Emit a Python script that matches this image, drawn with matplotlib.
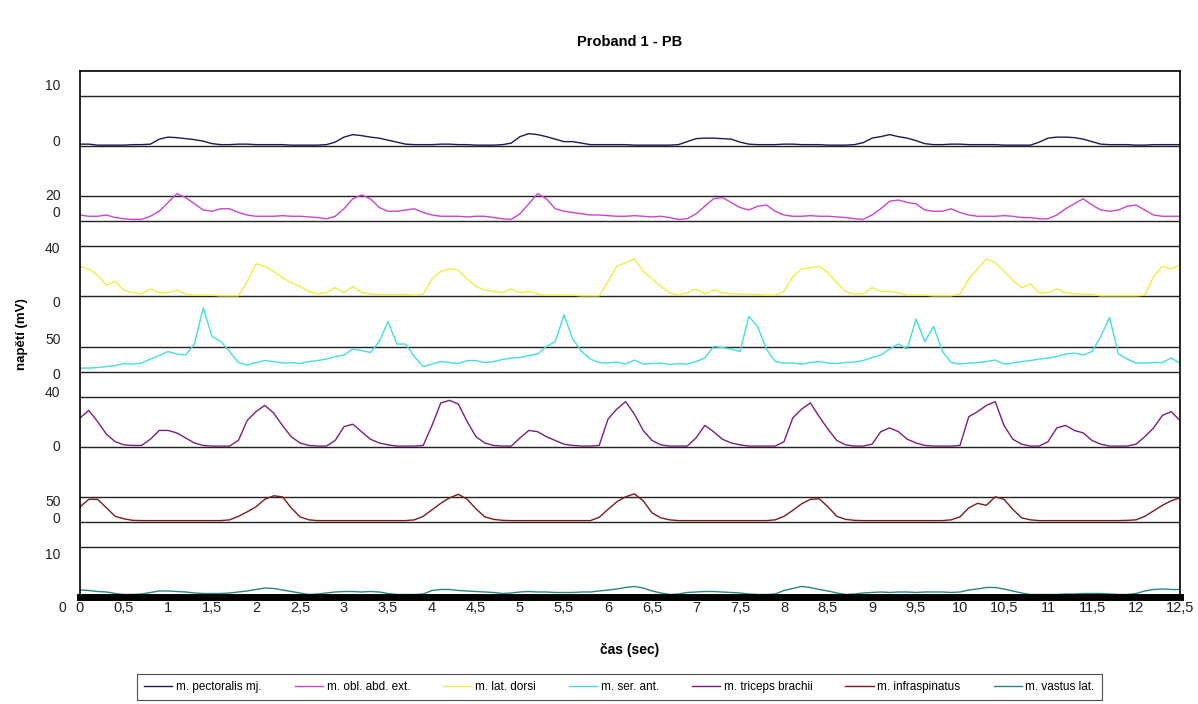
import numpy as np
import matplotlib
matplotlib.use("Agg")
import matplotlib.pyplot as plt

plt.rcParams['font.family'] = ['Liberation Sans', 'DejaVu Sans']

# time axis (sec), one sample every 0.1 s
cas = np.round(np.arange(0, 12.51, 0.1), 1)

# EMG traces (mV), one row per second
pectoralis = [0.4, 0.4, 0.2, 0.2, 0.2, 0.2, 0.3, 0.3, 0.4, 1.4,
              1.8, 1.7, 1.5, 1.3, 1.0, 0.5, 0.3, 0.3, 0.4, 0.4,
              0.3, 0.3, 0.3, 0.3, 0.2, 0.2, 0.2, 0.2, 0.3, 0.8,
              1.8, 2.3, 2.1, 1.8, 1.6, 1.2, 0.8, 0.4, 0.3, 0.3,
              0.3, 0.4, 0.4, 0.3, 0.3, 0.2, 0.2, 0.2, 0.3, 0.6,
              1.9, 2.5, 2.3, 1.9, 1.4, 0.9, 0.9, 0.6, 0.3, 0.3,
              0.3, 0.3, 0.3, 0.2, 0.2, 0.2, 0.2, 0.2, 0.3, 0.9,
              1.5, 1.6, 1.6, 1.5, 1.4, 0.8, 0.4, 0.3, 0.3, 0.3,
              0.4, 0.4, 0.3, 0.3, 0.3, 0.2, 0.2, 0.2, 0.3, 0.7,
              1.6, 1.9, 2.3, 1.9, 1.6, 1.1, 0.5, 0.3, 0.3, 0.4,
              0.4, 0.3, 0.3, 0.3, 0.3, 0.2, 0.2, 0.2, 0.2, 0.8,
              1.6, 1.8, 1.8, 1.7, 1.4, 0.9, 0.4, 0.3, 0.3, 0.3,
              0.2, 0.2, 0.3, 0.3, 0.3, 0.3]
obl_abd = [5, 4, 4, 5, 3, 2, 1.5, 1.5, 4, 8,
           15, 22, 19, 14, 9, 8, 10, 10, 7, 5,
           4, 4, 4, 4.5, 4, 4, 3.5, 3, 2, 4,
           10, 18, 21, 18, 11, 8, 8, 9, 10, 7,
           5, 4, 4, 4, 3.5, 4, 4, 3, 2, 1.5,
           6, 14, 22, 18, 10, 8, 7, 6, 5, 5,
           4.5, 4, 4, 4.5, 4, 3.5, 4, 3, 1.5, 2,
           6, 12, 18, 19, 15, 11, 9, 12, 13, 8,
           5, 4, 4, 4.5, 4, 4, 3.5, 3, 2, 1.5,
           5, 10, 16, 17, 15, 14, 9, 8, 8, 10,
           7, 5, 4, 4, 4, 4.5, 4, 3, 3, 2,
           2, 5, 10, 14, 18, 13, 9, 8, 9, 12,
           13, 9, 5, 4, 4, 4]
lat_dorsi = [24, 22, 17, 9, 12, 5, 3, 2, 6, 3,
             3, 5, 2, 1, 1, 1, 0.5, 0.5, 0.5, 12,
             26, 24, 20, 15, 11, 8, 4, 2, 3, 7,
             3, 8, 3, 2, 1.5, 1.5, 1.5, 1.5, 1, 2,
             14, 20, 22, 21, 14, 8, 5, 4, 3, 6,
             3, 4, 2, 1, 1, 1, 1, 0.5, 0.5, 0.5,
             12, 24, 27, 30, 20, 14, 8, 3, 1, 3,
             6, 2, 5, 3, 2, 2, 1.5, 1.5, 1, 1,
             4, 16, 22, 23, 24, 19, 11, 4, 2, 2,
             7, 4, 4, 3, 1, 1, 1, 0.5, 0.5, 0.5,
             2, 14, 22, 30, 27, 20, 13, 7, 10, 3,
             3, 6, 3, 2, 2, 1.5, 0.5, 0.5, 0.5, 0.5,
             0.5, 1, 16, 24, 22, 25]
ser_ant = [7, 7, 8, 10, 12, 16, 15, 17, 25, 32,
           40, 35, 33, 55, 127, 70, 60, 40, 18, 13,
           18, 22, 20, 17, 18, 16, 20, 22, 25, 30,
           33, 45, 42, 38, 60, 100, 55, 55, 30, 10,
           15, 20, 18, 16, 22, 22, 18, 20, 24, 27,
           28, 32, 35, 50, 60, 113, 65, 40, 25, 18,
           17, 19, 15, 23, 15, 16, 17, 14, 16, 15,
           20, 27, 50, 48, 45, 40, 110, 90, 45, 20,
           17, 17, 15, 18, 20, 17, 16, 18, 19, 22,
           28, 33, 45, 55, 45, 105, 60, 90, 40, 18,
           15, 17, 18, 20, 23, 15, 17, 20, 22, 25,
           27, 30, 35, 37, 33, 40, 70, 108, 35, 25,
           17, 17, 18, 18, 27, 17]
triceps = [23, 29, 20, 10, 4, 1.5, 1, 1, 6, 13,
           13, 11, 7, 3, 1, 0.5, 0.5, 0.5, 5, 21,
           28, 33, 27, 17, 8, 3, 1, 0.5, 0.5, 5,
           16, 18, 12, 6, 3, 1.5, 0.5, 0.5, 0.5, 1,
           17, 35, 37, 34, 20, 8, 3, 1, 0.5, 0.5,
           7, 13, 12, 8, 5, 2, 1, 0.5, 0.5, 1,
           22, 30, 36, 26, 13, 5, 1.5, 0.5, 0.5, 0.5,
           7, 17, 12, 6, 3, 1.5, 0.5, 0.5, 0.5, 0.5,
           4, 23, 30, 35, 24, 14, 5, 1.5, 0.5, 0.5,
           2, 12, 15, 12, 6, 3, 1, 0.5, 0.5, 0.5,
           1, 24, 28, 33, 36, 17, 6, 2, 0.5, 0.5,
           4, 15, 17, 13, 11, 5, 2, 0.5, 0.5, 0.5,
           2, 8, 15, 25, 28, 21]
infraspinatus = [30, 45, 45, 28, 11, 6, 3, 2.5, 2.5, 2.5,
                 2.5, 2.5, 2.5, 2.5, 2.5, 2.5, 2.5, 4, 11, 20,
                 30, 45, 52, 50, 28, 10, 4, 2.5, 2.5, 2.5,
                 2.5, 2.5, 2.5, 2.5, 2.5, 2.5, 2.5, 2.5, 4, 11,
                 24, 37, 48, 55, 45, 26, 10, 5, 3, 2.5,
                 2.5, 2.5, 2.5, 2.5, 2.5, 2.5, 2.5, 2.5, 2.5, 9,
                 25, 40, 50, 56, 42, 18, 8, 4, 2.5, 2.5,
                 2.5, 2.5, 2.5, 2.5, 2.5, 2.5, 2.5, 2.5, 2.5, 4,
                 11, 23, 36, 45, 46, 30, 11, 5, 3, 2.5,
                 2.5, 2.5, 2.5, 2.5, 2.5, 2.5, 2.5, 2.5, 2.5, 4,
                 10, 28, 37, 33, 50, 45, 25, 8, 4, 2.5,
                 2.5, 2.5, 2.5, 2.5, 2.5, 2.5, 2.5, 2.5, 2.5, 3,
                 4, 11, 22, 33, 42, 48]
vastus = [1.4, 1.3, 1.1, 1.0, 0.7, 0.5, 0.5, 0.6, 0.9, 1.2,
          1.2, 1.1, 1.0, 0.8, 0.7, 0.7, 0.7, 0.8, 1.0, 1.2,
          1.5, 1.8, 1.7, 1.4, 1.1, 0.8, 0.5, 0.6, 0.8, 1.0,
          1.1, 1.1, 1.0, 1.1, 1.0, 0.7, 0.5, 0.5, 0.5, 0.6,
          1.3, 1.5, 1.5, 1.3, 1.2, 1.1, 1.0, 0.9, 0.7, 0.8,
          1.0, 1.1, 1.0, 1.0, 0.9, 0.9, 0.9, 1.0, 1.0, 1.2,
          1.4, 1.6, 1.9, 2.1, 1.8, 1.2, 0.8, 0.5, 0.6, 0.9,
          1.0, 1.1, 1.1, 1.0, 0.9, 0.8, 0.6, 0.5, 0.5, 0.6,
          1.3, 1.7, 2.1, 1.9, 1.5, 1.2, 0.8, 0.5, 0.6, 0.8,
          0.9, 1.0, 0.9, 1.0, 1.0, 0.9, 1.0, 1.0, 1.0, 0.9,
          1.0, 1.4, 1.6, 1.9, 1.9, 1.6, 1.2, 0.8, 0.5, 0.5,
          0.5, 0.5, 0.6, 0.6, 0.7, 0.7, 0.7, 0.6, 0.5, 0.5,
          0.7, 1.2, 1.5, 1.6, 1.5, 1.5]

names = ['m. pectoralis mj.', 'm. obl. abd. ext.', 'm. lat. dorsi', 'm. ser. ant.',
         'm. triceps brachii', 'm. infraspinatus', 'm. vastus lat.']
colors = ['#1c1c4e', '#cc44cc', '#eeee44', '#44dede', '#7b1f7b', '#7a1c1c', '#2a8484']
traces = [pectoralis, obl_abd, lat_dorsi, ser_ant, triceps, infraspinatus, vastus]

# each trace sits on its own strip: (baseline, strip units per mV)
offsets = [18, 15, 12, 9, 6, 3, 0]
scales = [0.2, 0.05, 0.05, 0.02, 0.05, 0.02, 0.2]

# gridlines of the strips and the labels printed next to them
grid_levels = [20, 18, 16, 15, 14, 12, 10, 9, 8, 6, 4, 3, 2]
ylab_pos = [20.45, 18.24, 16.07, 15.38, 13.96, 11.79, 10.33, 8.93, 8.2, 6.03, 3.87, 3.18, 1.72]
ylab_text = ['10', '0', '20', '0', '40', '0', '50', '0', '40', '0', '50', '0', '10']
xticks = np.arange(0, 12.51, 0.5)
xtick_text = [('%g' % v).replace('.', ',') for v in xticks]

fig = plt.figure(figsize=(11.98, 7.04), dpi=100)
ax = fig.add_axes([80 / 1198, 107 / 704, 1100 / 1198, 526 / 704])

for y in grid_levels:
    ax.axhline(y, color='#222222', lw=1.0, zorder=1)

for tr, nm, c, off, sc in zip(traces, names, colors, offsets, scales):
    ax.plot(cas, off + np.array(tr) * sc, color=c, lw=1.0, label=nm, zorder=2)

ax.set_xlim(0, 12.5)
ax.set_ylim(0, 21)
ax.set_xticks(xticks, xtick_text)
ax.set_yticks(ylab_pos, ylab_text)
ax.tick_params(axis='y', length=0, pad=14, labelsize=10, colors='#222222')
ax.tick_params(axis='x', length=0, pad=3, labelsize=10.5, colors='#222222')
# the lowest "0" of the y axis sits just below the plot corner
ax.text(-0.16, -0.45, '0', fontsize=10, color='#222222', ha='right', va='center')

for s in ['left', 'right', 'top']:
    ax.spines[s].set_linewidth(1.2)
ax.spines['bottom'].set_linewidth(5)

ax.set_title('Proband 1 - PB', fontsize=10.5, fontweight='bold', pad=18)
ax.set_xlabel('čas (sec)', fontsize=10, fontweight='bold', labelpad=20)
ax.set_ylabel('napětí (mV)', fontsize=9.5, fontweight='bold', labelpad=12)

leg = fig.legend(loc='center', bbox_to_anchor=(0.517, 0.024), ncol=7, fontsize=8.5,
                 frameon=True, fancybox=False, edgecolor='#222222', handlelength=2.4,
                 handletextpad=0.3, columnspacing=2.8, borderpad=0.6)
leg.get_frame().set_linewidth(0.8)

fig.savefig('out.png', dpi=100)
